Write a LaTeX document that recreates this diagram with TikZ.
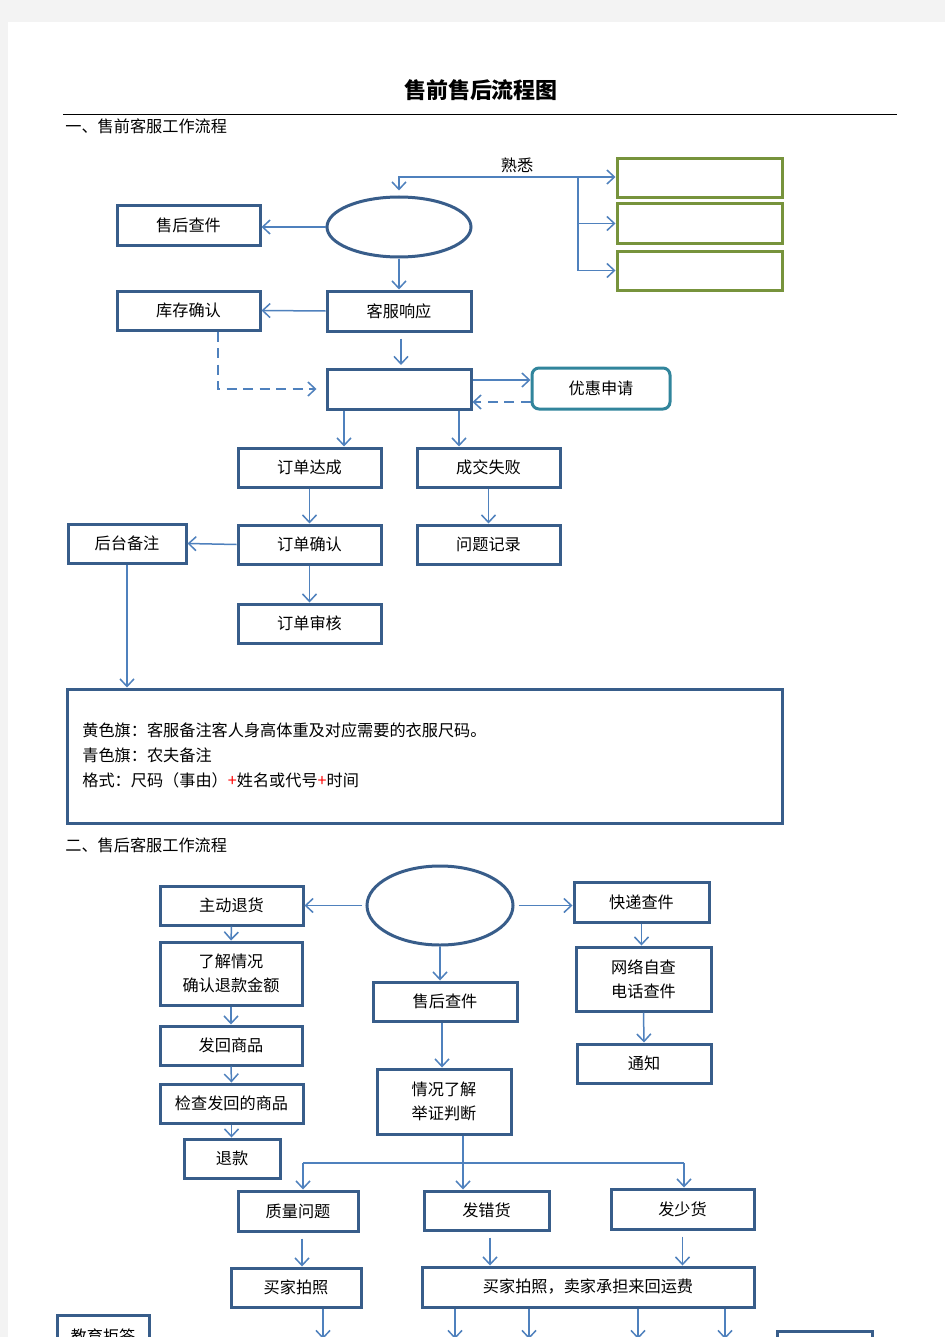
\documentclass[tikz,border=0pt]{standalone}
\usepackage{fontspec}
\newfontfamily\cjk{Noto Sans CJK SC}
\usetikzlibrary{arrows.meta,shapes.geometric}
\definecolor{boxblue}{HTML}{385D8A}
\definecolor{lineblue}{HTML}{4F81BD}
\definecolor{greenline}{HTML}{77933C}
\definecolor{tealline}{HTML}{31859C}
\definecolor{pagegray}{HTML}{F3F3F3}
\begin{document}
\begin{tikzpicture}[x=0.2mm,y=-0.2mm,>={Straight Barb[length=1.5mm,width=2.8mm]}]
	\tikzset{txt/.style={font=\cjk\fontsize{9.2pt}{13.6pt}\selectfont,inner sep=0pt},
		box/.style={txt,draw=boxblue,line width=0.6mm,fill=white,align=center},
		gbox/.style={draw=greenline,line width=0.6mm,fill=white,inner sep=0pt,minimum width=33mm,minimum height=7.8mm},
		rbox/.style={box,draw=tealline,rounded corners=1.4mm},
		ell/.style={draw=boxblue,line width=0.6mm,ellipse,fill=white,inner sep=0pt},
		arr/.style={draw=lineblue,line width=0.3mm,->},
		darr/.style={arr,dash pattern=on 2mm off 1.3mm}
	}
	\useasboundingbox (0,0) rectangle (945,1337);
	\fill[pagegray] (0,0) rectangle (945,1337);
	\fill[white] (8,22) rectangle (945,1337);
	\node[font=\cjk\bfseries\fontsize{12.5pt}{15pt}\selectfont] (title) at (481,90) {售前售后流程图};
	\draw[line width=0.2mm] (63,115) -- (897,115);
	\node[txt,anchor=west] (sec1) at (65,126) {一、售前客服工作流程};
	\node[txt,anchor=west] (sec2) at (65,845) {二、售后客服工作流程};
	% part one
	\node[gbox] (g1) at (699.5,178) {};
	\node[gbox] (g2) at (699.5,223.5) {};
	\node[gbox] (g3) at (699.5,270.5) {};
	\node[txt] (shuxi) at (517,165) {熟悉};
	\coordinate (j1) at (578,177);
	\node[ell,minimum width=28.8mm,minimum height=12mm] (ell1) at (399,227) {};
	\node[box,minimum width=28.6mm,minimum height=7.8mm] (shcj1) at (188.5,225.5) {售后查件};
	\node[box,minimum width=28.8mm,minimum height=8mm] (kfxy) at (399,311) {客服响应};
	\node[box,minimum width=28.6mm,minimum height=7.8mm] (kcqr) at (188.5,310.5) {库存确认};
	\node[box,minimum width=28.8mm,minimum height=8mm] (blank) at (399,389) {};
	\node[rbox,minimum width=27.6mm,minimum height=8.2mm] (yhsq) at (601,388.5) {优惠申请};
	\node[box,minimum width=28.6mm,minimum height=7.8mm] (ddcg) at (309.5,467.5) {订单达成};
	\node[box,minimum width=28.6mm,minimum height=7.8mm] (cjsb) at (488.5,467.5) {成交失败};
	\node[box,minimum width=28.6mm,minimum height=7.8mm] (ddqr) at (309.5,544.5) {订单确认};
	\node[box,minimum width=28.6mm,minimum height=7.8mm] (wtjl) at (488.5,544.5) {问题记录};
	\node[box,minimum width=23.6mm,minimum height=7.8mm] (htbz) at (127,543.5) {后台备注};
	\node[box,minimum width=28.6mm,minimum height=7.8mm] (ddsh) at (309.5,623.5) {订单审核};
	\node[box,minimum width=142.8mm,minimum height=26.8mm] (note) at (425,756) {};
	\node[txt,anchor=west,align=left,font=\cjk\fontsize{9.2pt}{14.2pt}\selectfont] (notetxt) at (82,755)
	{黄色旗：客服备注客人身高体重及对应需要的衣服尺码。\\青色旗：农夫备注\\格式：尺码（事由）\textcolor{red}{+}姓名或代号\textcolor{red}{+}时间};
	\draw[arr] (j1) -| ([yshift=1mm]ell1.north);
	\draw[arr] (j1) -- (j1 -| g1.west);
	\draw[arr] (j1) |- (g3.west);
	\draw[arr] (j1 |- g2) -- (g2.west);
	\draw[arr] (ell1.west) -- (ell1.west -| shcj1.east);
	\draw[arr] (ell1.south) -- (kfxy.north);
	\draw[arr] (kfxy.west) -- (kcqr.east);
	\draw[arr,shorten <=1.2mm,shorten >=0.5mm] ([xshift=0.4mm]kfxy.south) -- ([xshift=0.4mm]blank.north);
	\draw[darr,shorten >=1.8mm] ([xshift=5.9mm]kcqr.south) |- (blank.west);
	\draw[arr] ([yshift=1.8mm]blank.east) -- ([yshift=1.8mm]blank.east -| yhsq.west);
	\draw[darr] ([yshift=-2.7mm]yhsq.west) -- ([yshift=-2.7mm]yhsq.west -| blank.east);
	\draw[arr] ([xshift=-11mm]blank.south) -- ([xshift=-11mm]blank.south |- ddcg.north);
	\draw[arr] ([xshift=12mm]blank.south) -- ([xshift=12mm]blank.south |- cjsb.north);
	\draw[arr] (ddcg.south) -- (ddqr.north);
	\draw[arr] (cjsb.south) -- (wtjl.north);
	\draw[arr] (ddqr.west) -- (htbz.east);
	\draw[arr] (ddqr.south) -- (ddsh.north);
	\draw[arr] (htbz.south) -- (htbz.south |- note.north);
	% part two
	\node[ell,minimum width=29.2mm,minimum height=15.8mm] (ell2) at (440,905.5) {};
	\node[box,minimum width=28.6mm,minimum height=7.8mm] (zdth) at (231.5,905.5) {主动退货};
	\node[box,minimum width=27mm,minimum height=8mm] (kdcj) at (641.5,902) {快递查件};
	\node[box,minimum width=28.4mm,minimum height=12.6mm] (ljqk) at (231,973.5) {了解情况\\确认退款金额};
	\node[box,minimum width=28.4mm,minimum height=7.8mm] (fhsp) at (231,1045.5) {发回商品};
	\node[box,minimum width=28.6mm,minimum height=7.8mm] (jcfh) at (231.5,1103.5) {检查发回的商品};
	\node[box,minimum width=19.2mm,minimum height=7.8mm] (tk) at (232,1158.5) {退款};
	\node[box,minimum width=28.8mm,minimum height=7.8mm] (shcj2) at (445,1001.5) {售后查件};
	\node[box,minimum width=26.8mm,minimum height=13mm] (qklj) at (444,1101.5) {情况了解\\举证判断};
	\node[box,minimum width=27mm,minimum height=12.8mm] (wlzc) at (643.5,979) {网络自查\\电话查件};
	\node[box,minimum width=26.8mm,minimum height=7.8mm] (tz) at (644,1063.5) {通知};
	\node[box,minimum width=24mm,minimum height=8mm] (zlwt) at (298,1211) {质量问题};
	\node[box,minimum width=25mm,minimum height=7.8mm] (fch) at (486.5,1210.5) {发错货};
	\node[box,minimum width=28.6mm,minimum height=8mm] (fsh) at (682.5,1209) {发少货};
	\node[box,minimum width=26mm,minimum height=7.8mm] (mjpz) at (296,1287.5) {买家拍照};
	\node[box,minimum width=66.4mm,minimum height=8mm] (mjyf) at (588,1287) {买家拍照，卖家承担来回运费};
	\node[box,minimum width=18.4mm,minimum height=9mm,text depth=0pt] (jyjd) at (103,1337.5) {\raisebox{0.8mm}{教育拒答}};
	\node[box,minimum width=19mm,minimum height=8mm] (rbx) at (824.5,1351) {};
	\coordinate (br1) at (303,1163);
	\coordinate (br2) at (684,1163);
	\coordinate (o1) at (323,1339);
	\coordinate (o2) at (455,1339);
	\coordinate (o3) at (529,1339);
	\coordinate (o4) at (638,1339);
	\coordinate (o5) at (725,1339);
	\draw[arr,shorten <=0.8mm] (ell2.west) -- (zdth.east);
	\draw[arr,shorten <=0.8mm] (ell2.east) -- (ell2.east -| kdcj.west);
	\draw[arr] (zdth.south) -- (ljqk.north);
	\draw[arr] (ljqk.south) -- (fhsp.north);
	\draw[arr] (fhsp.south) -- (jcfh.north);
	\draw[arr] (jcfh.south) -- (jcfh.south |- tk.north);
	\draw[arr] (ell2.south) -- (ell2.south |- shcj2.north);
	\draw[arr] ([xshift=-0.6mm]shcj2.south) -- ([xshift=-0.6mm]shcj2.south |- qklj.north);
	\draw[arr] ([xshift=3.8mm]qklj.south) -- ([xshift=3.8mm]qklj.south |- fch.north);
	\draw[draw=lineblue,line width=0.3mm] (br1) -- (br2);
	\draw[arr] (br1) -- (br1 |- zlwt.north);
	\draw[arr] (br2) -- (br2 |- fsh.north);
	\draw[arr] (kdcj.south) -- (kdcj.south |- wlzc.north);
	\draw[arr] (wlzc.south) -- (tz.north);
	\draw[arr,shorten <=1.2mm] ([xshift=0.8mm]zlwt.south) -- ([xshift=0.8mm]zlwt.south |- mjpz.north);
	\draw[arr,shorten <=1.2mm] ([xshift=0.7mm]fch.south) -- ([xshift=0.7mm]fch.south |- mjyf.north);
	\draw[arr,shorten <=1.2mm] (fsh.south) -- (fsh.south |- mjyf.north);
	\draw[arr] (mjpz.south -| o1) -- (o1);
	\draw[arr] (mjyf.south -| o2) -- (o2);
	\draw[arr] (mjyf.south -| o3) -- (o3);
	\draw[arr] (mjyf.south -| o4) -- (o4);
	\draw[arr] (mjyf.south -| o5) -- (o5);
\end{tikzpicture}
\end{document}
